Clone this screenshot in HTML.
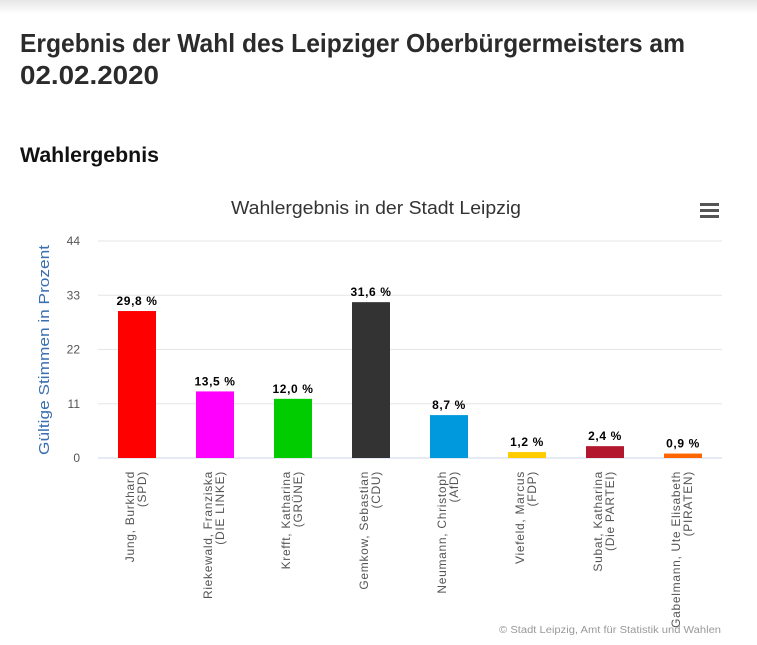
<!DOCTYPE html>
<html><head><meta charset="utf-8"><style>
html,body{margin:0;padding:0;background:#fff;width:757px;height:645px;overflow:hidden}
svg{display:block;font-family:"Liberation Sans",sans-serif}
</style></head><body>
<svg width="757" height="645" viewBox="0 0 757 645">
<defs><linearGradient id="sh" x1="0" y1="0" x2="0" y2="1"><stop offset="0" stop-color="#e6e6e6"/><stop offset="1" stop-color="#fff"/></linearGradient></defs>
<rect x="0" y="0" width="757" height="14" fill="url(#sh)"/>
<text x="20" y="52" font-size="26" font-weight="bold" fill="#2b2b2b" textLength="665" lengthAdjust="spacingAndGlyphs">Ergebnis der Wahl des Leipziger Oberbürgermeisters am</text>
<text x="20" y="84" font-size="26" font-weight="bold" fill="#2b2b2b" textLength="139" lengthAdjust="spacingAndGlyphs">02.02.2020</text>
<text x="20" y="162" font-size="21" font-weight="bold" fill="#111" textLength="139" lengthAdjust="spacingAndGlyphs">Wahlergebnis</text>
<text x="376" y="214" font-size="18" fill="#333" text-anchor="middle" textLength="290" lengthAdjust="spacingAndGlyphs">Wahlergebnis in der Stadt Leipzig</text>
<g>
<rect x="700" y="203" width="19" height="3" fill="#555"/><rect x="700" y="209" width="19" height="3" fill="#555"/><rect x="700" y="215" width="19" height="3" fill="#555"/>
</g>
<text transform="translate(49,350) rotate(-90)" font-size="15" fill="#3a6fb0" text-anchor="middle" textLength="210" lengthAdjust="spacingAndGlyphs">Gültige Stimmen in Prozent</text>
<g id="grid"></g><g id="bars"></g><g id="labels"></g>
<text x="721" y="633" font-size="10" fill="#999" text-anchor="end" textLength="222" lengthAdjust="spacingAndGlyphs">© Stadt Leipzig, Amt für Statistik und Wahlen</text>
</svg>
<script>
const names1=["Jung, Burkhard","Riekewald, Franziska","Krefft, Katharina","Gemkow, Sebastian","Neumann, Christoph","Viefeld, Marcus","Subat, Katharina","Gabelmann, Ute Elisabeth"];
const names2=["(SPD)","(DIE LINKE)","(GRÜNE)","(CDU)","(AfD)","(FDP)","(Die PARTEI)","(PIRATEN)"];
const values=[29.8,13.5,12.0,31.6,8.7,1.2,2.4,0.9];
const colors=["#ff0000","#ff00ff","#00cc00","#333333","#0099dd","#ffcc00","#b3172e","#ff6600"];
const ticks=[0,11,22,33,44];
const NS="http://www.w3.org/2000/svg";
const x0=98,x1=722,y0=458,y1=241,ymax=44;
const bw=(x1-x0)/values.length;
const ys=v=>y0-(v/ymax)*(y0-y1);
const xc=i=>x0+bw*(i+0.5);
function mk(t,a,p){const e=document.createElementNS(NS,t);for(const k in a)e.setAttribute(k,a[k]);p.appendChild(e);return e;}
const grid=document.getElementById('grid'),bars=document.getElementById('bars'),labels=document.getElementById('labels');
ticks.forEach(t=>{
 const l=mk('line',{x1:x0,x2:x1,y1:ys(t),y2:ys(t),stroke:t===0?'#ccd6eb':'#e6e6e6','stroke-width':1},grid);
 
 
 const tx=mk('text',{x:80,y:ys(t)+4,'text-anchor':'end','font-size':12,fill:'#555'},grid);
 tx.textContent=t;
 
 
});
values.forEach((v,i)=>{
 const r=mk('rect',{x:xc(i)-19,y:ys(v),width:38,height:y0-ys(v),fill:colors[i]},bars);
 
 
 const dl=mk('text',{x:xc(i),y:ys(v)-6,'text-anchor':'middle','font-size':12,'font-weight':'bold','letter-spacing':'0.6',fill:'#000'},labels);
 dl.textContent=v.toFixed(1).replace('.',',')+' %';
 
 
 const g=mk('text',{transform:`translate(${xc(i)},471) rotate(-90)`,'text-anchor':'end','font-size':12,'letter-spacing':'0.7',fill:'#555'},labels);
 
 
 const a=mk('tspan',{x:0,y:-3},g);a.textContent=names1[i];
 const b=mk('tspan',{x:0,y:9},g);b.textContent=names2[i];
});
</script>
</body></html>
